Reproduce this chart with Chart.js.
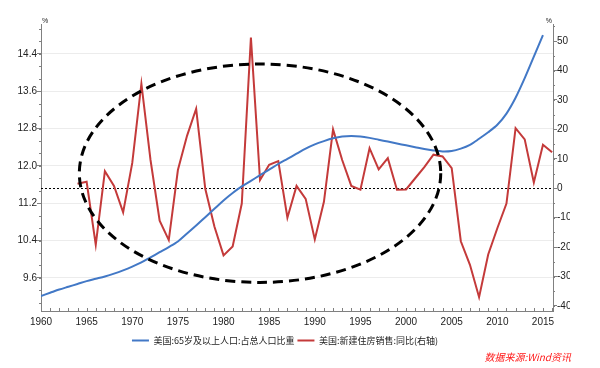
<!DOCTYPE html>
<html lang="zh">
<head>
    <meta charset="UTF-8">
    <title>美国65岁以上人口占比与新建住房销售</title>
    <style>
        body {
            margin: 0;
            background-color: #ffffff;
        }
        .wrap {
            width: 600px;
            height: 368px;
            position: relative;
        }
    </style>
</head>
<body>
<div class="wrap">
    <canvas id="chart1" width="600" height="368"></canvas>
</div>

<script src="https://cdn.jsdelivr.net/npm/chart.js"></script>
<script>
    // 美国:65岁及以上人口:占总人口比重 (%), 1960-2015
    const agedYears = [];
    for (let y = 1960; y <= 2015; y++) agedYears.push(y);
    const agedShare = [
        9.21, 9.28, 9.35, 9.41, 9.47, 9.53, 9.58, 9.63, 9.69, 9.76,
        9.84, 9.93, 10.04, 10.15, 10.26, 10.38, 10.55, 10.72, 10.90, 11.08,
        11.26, 11.42, 11.56, 11.68, 11.80, 11.92, 12.04, 12.15, 12.26, 12.37,
        12.46, 12.53, 12.59, 12.63, 12.64, 12.63, 12.60, 12.56, 12.52, 12.48,
        12.44, 12.40, 12.36, 12.33, 12.31, 12.32, 12.37, 12.45, 12.58, 12.72,
        12.88, 13.12, 13.46, 13.88, 14.34, 14.80
    ];

    // 美国:新建住房销售:同比 (%, 右轴), 1964-2016
    const salesYears = [];
    for (let y = 1964; y <= 2016; y++) salesYears.push(y);
    const salesYoY = [
        1.5, 2.2, -19.2, 5.8, 0.8, -8.2, 8.6, 35.5, 9.6, -11.0,
        -17.6, 6.2, 17.8, 27.0, -0.2, -13.0, -22.8, -19.8, -5.2, 51.2,
        2.8, 8.0, 9.2, -10.0, 0.8, -3.6, -17.4, -4.6, 20.0, 9.6,
        0.8, -0.5, 13.6, 6.4, 10.2, -0.5, -0.4, 3.4, 7.2, 11.4,
        10.8, 6.8, -18.0, -26.0, -37.0, -22.5, -13.6, -5.2, 20.4, 16.6,
        2.0, 14.8, 12.2
    ];

    const xTicks = [1960, 1965, 1970, 1975, 1980, 1985, 1990, 1995, 2000, 2005, 2010, 2015];
    const leftTicks = [9.6, 10.4, 11.2, 12.0, 12.8, 13.6, 14.4];
    const rightTicks = [-40, -30, -20, -10, 0, 10, 20, 30, 40, 50];

    // dashed ellipse (x in years, y in right-axis units)
    const ring = { cx: 1984.0, cy: 5.1, rx: 19.8, ry: 37.1 };

    const axisGray = '#808080';
    const textColor = '#222222';

    // minor ticks, zero line, ellipse, unit marks, source note
    const extras = {
        id: 'extras',
        beforeDatasetsDraw(chart) {
            const {ctx, chartArea, scales} = chart;
            const y0 = scales.y1.getPixelForValue(0);
            ctx.save();
            ctx.strokeStyle = '#000000';
            ctx.lineWidth = 1;
            ctx.setLineDash([2, 2]);
            ctx.beginPath();
            ctx.moveTo(chartArea.left, Math.round(y0) + 0.5);
            ctx.lineTo(chartArea.right, Math.round(y0) + 0.5);
            ctx.stroke();
            ctx.restore();
        },
        afterDatasetsDraw(chart) {
            const {ctx, chartArea, scales} = chart;
            const x = scales.x, y = scales.y, y1 = scales.y1;
            ctx.save();

            // ellipse
            const cx = x.getPixelForValue(ring.cx);
            const cy = y1.getPixelForValue(ring.cy);
            const rx = x.getPixelForValue(ring.cx + ring.rx) - cx;
            const ry = cy - y1.getPixelForValue(ring.cy + ring.ry);
            ctx.strokeStyle = '#000000';
            ctx.lineWidth = 3;
            ctx.setLineDash([10, 6]);
            ctx.beginPath();
            ctx.ellipse(cx, cy, rx, ry, 0, 0, Math.PI * 2);
            ctx.stroke();
            ctx.setLineDash([]);

            // minor ticks
            ctx.strokeStyle = axisGray;
            ctx.lineWidth = 1;
            ctx.beginPath();
            for (let yr = 1960; yr <= 2016; yr++) {
                const px = Math.round(x.getPixelForValue(yr)) + 0.5;
                ctx.moveTo(px, chartArea.bottom);
                ctx.lineTo(px, chartArea.bottom - 3);
            }
            for (let v = 9.6 - 0.8; v < 15.1; v += 0.8 / 3) {
                const py = y.getPixelForValue(v);
                if (py < chartArea.top || py > chartArea.bottom) continue;
                ctx.moveTo(chartArea.left, Math.round(py) + 0.5);
                ctx.lineTo(chartArea.left - 2, Math.round(py) + 0.5);
            }
            for (let v = -40; v <= 55; v += 5) {
                const py = y1.getPixelForValue(v);
                ctx.moveTo(chartArea.right, Math.round(py) + 0.5);
                ctx.lineTo(chartArea.right + 2, Math.round(py) + 0.5);
            }
            ctx.stroke();

            // unit marks
            ctx.fillStyle = textColor;
            ctx.font = '7px "Liberation Sans"';
            ctx.textBaseline = 'bottom';
            ctx.textAlign = 'left';
            ctx.fillText('%', chartArea.left + 1, chartArea.top + 1);
            ctx.textAlign = 'right';
            ctx.fillText('%', chartArea.right - 1, chartArea.top + 1);

            // source
            ctx.fillStyle = '#ff1a1a';
            ctx.font = 'italic 10px "Noto Sans CJK SC"';
            ctx.textAlign = 'right';
            ctx.textBaseline = 'middle';
            ctx.fillText('数据来源:Wind资讯', 571, chart.height - 11);
            ctx.restore();
        }
    };

    new Chart(document.getElementById('chart1'), {
        type: 'line',
        data: {
            datasets: [{
                label: '美国:65岁及以上人口:占总人口比重',
                data: agedYears.map((yr, i) => ({x: yr, y: agedShare[i]})),
                borderColor: '#4278c6',
                backgroundColor: '#4278c6',
                borderWidth: 2,
                pointRadius: 0,
                tension: 0.3,
                yAxisID: 'y'
            }, {
                label: '美国:新建住房销售:同比(右轴)',
                data: salesYears.map((yr, i) => ({x: yr, y: salesYoY[i]})),
                borderColor: '#c43a3a',
                backgroundColor: '#c43a3a',
                borderWidth: 2,
                pointRadius: 0,
                tension: 0,
                yAxisID: 'y1'
            }]
        },
        options: {
            responsive: false,
            animation: false,
            layout: {
                padding: { top: 24, left: 0, right: 30, bottom: 13 }
            },
            plugins: {
                legend: {
                    position: 'bottom',
                    labels: {
                        usePointStyle: true,
                        pointStyle: 'line',
                        pointStyleWidth: 17,
                        padding: 3,
                        color: textColor,
                        font: { family: '"Noto Sans CJK SC"', size: 9 }
                    }
                },
                tooltip: { enabled: false }
            },
            scales: {
                x: {
                    type: 'linear',
                    min: 1960,
                    max: 2016.1,
                    afterBuildTicks: s => { s.ticks = xTicks.map(v => ({value: v})); },
                    grid: { drawOnChartArea: false, drawTicks: false },
                    border: { color: axisGray },
                    ticks: {
                        padding: 5,
                        color: textColor,
                        maxRotation: 0,
                        font: { family: '"Liberation Sans"', size: 10 },
                        callback: v => String(v)
                    }
                },
                y: {
                    position: 'left',
                    min: 8.89,
                    max: 15.04,
                    afterBuildTicks: s => { s.ticks = leftTicks.map(v => ({value: v})); },
                    afterFit: s => { s.width = 41; },
                    grid: { color: '#ececec', tickColor: axisGray, tickLength: 4 },
                    border: { color: axisGray },
                    ticks: {
                        padding: 0,
                        color: textColor,
                        font: { family: '"Liberation Sans"', size: 10 },
                        callback: v => v.toFixed(1)
                    }
                },
                y1: {
                    position: 'right',
                    min: -41.7,
                    max: 55.8,
                    afterBuildTicks: s => { s.ticks = rightTicks.map(v => ({value: v})); },
                    afterFit: s => { s.width = 17; },
                    grid: { drawOnChartArea: false, tickColor: axisGray, tickLength: 4 },
                    border: { color: axisGray },
                    ticks: {
                        padding: 0,
                        color: textColor,
                        font: { family: '"Liberation Sans"', size: 10 },
                        callback: v => String(v)
                    }
                }
            }
        },
        plugins: [extras]
    });
</script>
</body>
</html>
